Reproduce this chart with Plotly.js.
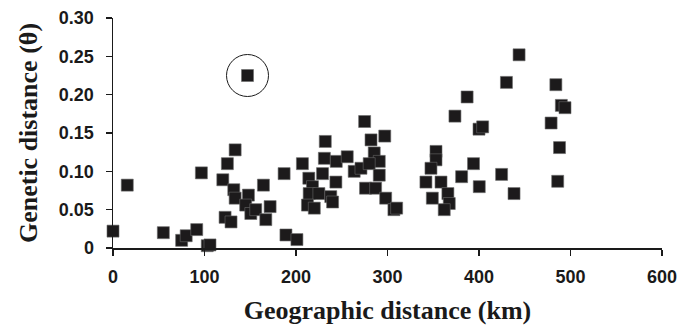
<!DOCTYPE html>
<html>
<head>
<meta charset="utf-8">
<script src="https://cdn.plot.ly/plotly-3.0.1.min.js"></script>
<style>html,body{margin:0;padding:0;background:#fff;}#chart{width:689px;height:329px;}</style>
</head>
<body>
<div id="chart"></div>
<script>
// Geographic distance (km)
const geoDistance = [0, 15.6, 55, 75, 80, 91.5, 96.6, 103, 106, 120, 122.5, 129, 125, 133.5, 132, 133.5,
  147, 148, 145, 150.6, 156, 164.4, 171.7, 167, 187, 189, 201, 207, 232, 231, 244, 256, 214, 229, 243.6,
  218, 214.4, 225, 238, 240, 212.5, 220, 263.6, 271, 275, 282, 297, 285.5, 291, 280, 291, 276, 287, 298,
  307, 310, 353, 353, 347.5, 342, 358.5, 366, 349, 367.5, 362, 373.7, 387, 381, 394, 400.3, 400, 404,
  430, 443.8, 424.7, 438.3, 484, 490, 494, 478.8, 488, 486];
// Genetic distance (theta)
const geneticDistance = [0.022, 0.082, 0.020, 0.010, 0.016, 0.024, 0.098, 0.003, 0.004, 0.089, 0.040, 0.034,
  0.110, 0.128, 0.076, 0.065, 0.225, 0.069, 0.056, 0.045, 0.050, 0.082, 0.054, 0.037, 0.097, 0.017, 0.011,
  0.110, 0.139, 0.117, 0.113, 0.119, 0.091, 0.097, 0.086, 0.080, 0.071, 0.071, 0.067, 0.060, 0.056, 0.052,
  0.100, 0.104, 0.165, 0.141, 0.146, 0.124, 0.113, 0.110, 0.095, 0.078, 0.078, 0.065, 0.050, 0.052, 0.126,
  0.115, 0.104, 0.086, 0.086, 0.071, 0.065, 0.058, 0.050, 0.172, 0.197, 0.093, 0.110, 0.080, 0.155, 0.158,
  0.216, 0.252, 0.096, 0.071, 0.213, 0.186, 0.183, 0.163, 0.131, 0.087];
// index of the circled outlier
const circledIndex = 16;

const xTickVals = [0, 100, 200, 300, 400, 500, 600];
const xTickText = ['0', '100', '200', '300', '400', '500', '600'];
const yTickVals = [0, 0.05, 0.10, 0.15, 0.20, 0.25, 0.30];
const yTickText = ['0', '0.05', '0.10', '0.15', '0.20', '0.25', '0.30'];

const trace = {
  x: geoDistance,
  y: geneticDistance,
  type: 'scatter',
  mode: 'markers',
  cliponaxis: false,
  marker: {symbol: 'square', size: 12, color: '#1c1a1b', line: {color: '#6a6a6a', width: 0.6}},
  hoverinfo: 'x+y'
};

const tickFont = {family: '"Liberation Sans", Arial, sans-serif', size: 18, color: '#1a1a1a', weight: 'bold'};
const titleFont = {family: '"Liberation Serif", "Times New Roman", serif', size: 26, color: '#1a1a1a', weight: 'bold'};

const layout = {
  width: 689, height: 329,
  margin: {l: 113, r: 27, t: 18, b: 81},
  paper_bgcolor: '#ffffff', plot_bgcolor: '#ffffff',
  showlegend: false,
  xaxis: {
    range: [0, 600], tickvals: xTickVals, ticktext: xTickText,
    showgrid: false, zeroline: false, showline: true, linecolor: '#1a1a1a', linewidth: 1.5,
    ticks: 'outside', ticklen: 6, tickwidth: 1.2, tickcolor: '#1a1a1a',
    tickfont: tickFont, ticklabelstandoff: 6,
    title: {text: 'Geographic distance (km)', font: titleFont, standoff: 14}
  },
  yaxis: {
    range: [0, 0.30], tickvals: yTickVals, ticktext: yTickText,
    showgrid: false, zeroline: false, showline: true, linecolor: '#1a1a1a', linewidth: 1.5,
    ticks: 'outside', ticklen: 6, tickwidth: 1.2, tickcolor: '#1a1a1a',
    tickfont: tickFont, ticklabelstandoff: 8,
    title: {text: 'Genetic distance (θ)', font: titleFont, standoff: 14}
  },
  shapes: [{
    type: 'circle', xref: 'x', yref: 'y',
    xsizemode: 'pixel', ysizemode: 'pixel',
    xanchor: geoDistance[circledIndex], yanchor: geneticDistance[circledIndex],
    x0: -21, x1: 21, y0: -21, y1: 21,
    line: {color: '#1a1a1a', width: 1}
  }]
};

Plotly.newPlot('chart', [trace], layout, {staticPlot: true, displayModeBar: false});
</script>
</body>
</html>
